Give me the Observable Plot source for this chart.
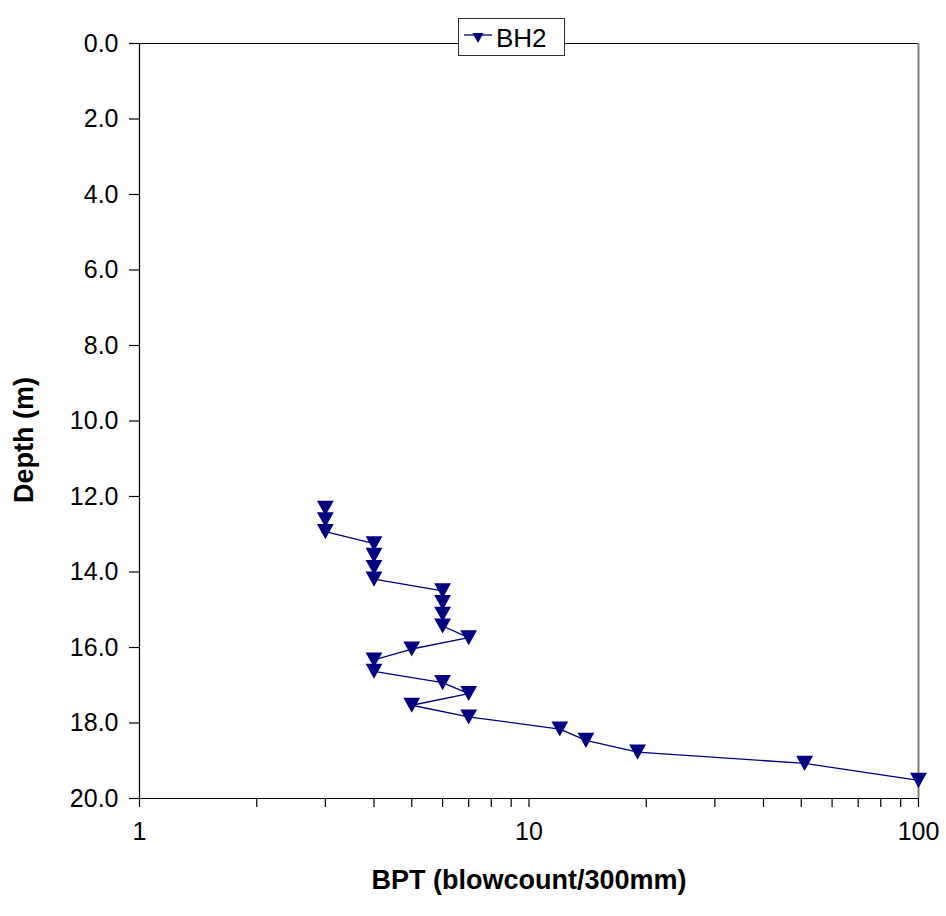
<!DOCTYPE html>
<html>
<head>
<meta charset="utf-8">
<script src="https://cdn.jsdelivr.net/npm/d3@7"></script>
<script src="https://cdn.jsdelivr.net/npm/@observablehq/plot@0.6"></script>
<style>
  html, body { margin: 0; padding: 0; background: #fff; }
  #wrap { position: relative; width: 946px; height: 916px; font-family: "Liberation Sans", Arial, sans-serif; }
  #legend { position: absolute; left: 458px; top: 18px; width: 107px; height: 38px; background: #fff; border: 1px solid #303030; box-sizing: border-box;
            display: flex; align-items: center; padding-left: 5px; }
  #legend svg { display: block; flex: none; }
  #legend span { font-size: 26px; line-height: 30px; color: #000; margin-left: 4px; margin-top: 2px; white-space: nowrap; }
</style>
</head>
<body>
<div id="wrap"><div id="legend"></div></div>
<script>
// Series BH2: blow count (x) against depth in metres (y)
const seriesName = "BH2";
const blows = [3, 3, 3, 4, 4, 4, 4, 6, 6, 6, 6, 7, 5, 4, 4, 6, 7, 5, 7, 12, 14, 19, 51, 100];
const depths = [12.31, 12.62, 12.93, 13.25, 13.56, 13.88, 14.19, 14.50, 14.81, 15.12, 15.43, 15.74, 16.04, 16.33, 16.63, 16.93, 17.22, 17.53, 17.84, 18.16, 18.46, 18.77, 19.07, 19.52];
const yTicks = [0, 2, 4, 6, 8, 10, 12, 14, 16, 18, 20];
const xMajor = [1, 10, 100];
const xMinor = [2, 3, 4, 5, 6, 7, 8, 9, 20, 30, 40, 50, 60, 70, 80, 90];
const xTitle = "BPT (blowcount/300mm)";
const yTitle = "Depth (m)";

const data = blows.map((b, i) => ({blows: b, depth: depths[i]}));
const navy = "#000080";

// downward-pointing triangle symbol
const triDown = {
  draw(ctx, size) {
    const r = Math.sqrt(size / Math.PI);
    ctx.moveTo(-r, -0.9 * r);
    ctx.lineTo(r, -0.9 * r);
    ctx.lineTo(0, 0.9 * r);
    ctx.closePath();
  }
};

const chart = Plot.plot({
  width: 946,
  height: 916,
  marginLeft: 139,
  marginRight: 28,
  marginTop: 43,
  marginBottom: 118,
  style: {fontFamily: "'Liberation Sans', Arial, sans-serif", fontSize: "25px", background: "#fff", color: "#000"},
  x: {type: "log", domain: [1, 100]},
  y: {domain: [0, 20], reverse: true},
  marks: [
    Plot.axisY({ticks: yTicks, tickFormat: d => d.toFixed(1), tickSize: 10, tickPadding: 11, fontSize: 25, label: null, stroke: "#000", strokeWidth: 1.2}),
    Plot.axisX({ticks: [...xMajor, ...xMinor], tickFormat: d => xMajor.includes(d) ? String(d) : "", tickSize: 9, tickPadding: 15, fontSize: 25, label: null, stroke: "#000", strokeWidth: 1.2}),
    Plot.ruleY([0], {stroke: "#000", strokeWidth: 1.2}),
    Plot.ruleY([20], {stroke: "#000", strokeWidth: 1.2}),
    Plot.ruleX([1], {stroke: "#000", strokeWidth: 1.2}),
    Plot.ruleX([100], {stroke: "#808080", strokeWidth: 2}),
    Plot.line(data, {x: "blows", y: "depth", stroke: navy, strokeWidth: 1.3}),
    Plot.dot(data, {x: "blows", y: "depth", symbol: triDown, r: 8.4, fill: navy, stroke: null}),
    Plot.text([yTitle], {frameAnchor: "left", textAnchor: "middle", lineAnchor: "middle", rotate: -90, dx: -115, dy: 19, fontSize: 27, fontWeight: "bold", fill: "#000"}),
    Plot.text([xTitle], {frameAnchor: "bottom", textAnchor: "middle", lineAnchor: "middle", dy: 82, fontSize: 27, fontWeight: "bold", fill: "#000"})
  ]
});
const wrap = document.getElementById("wrap");
wrap.insertBefore(chart, wrap.firstChild);

// legend: line-with-marker key and series name
const legend = d3.select("#legend");
const key = legend.append("svg").attr("width", 28).attr("height", 20);
key.append("line").attr("x1", 0).attr("x2", 28).attr("y1", 8).attr("y2", 8).attr("stroke", navy).attr("stroke-width", 1.3);
key.append("path").attr("d", d3.symbol(triDown, Math.PI * 5.5 * 5.5)()).attr("transform", "translate(14,11)").attr("fill", navy);
legend.append("span").text(seriesName);
</script>
</body>
</html>
